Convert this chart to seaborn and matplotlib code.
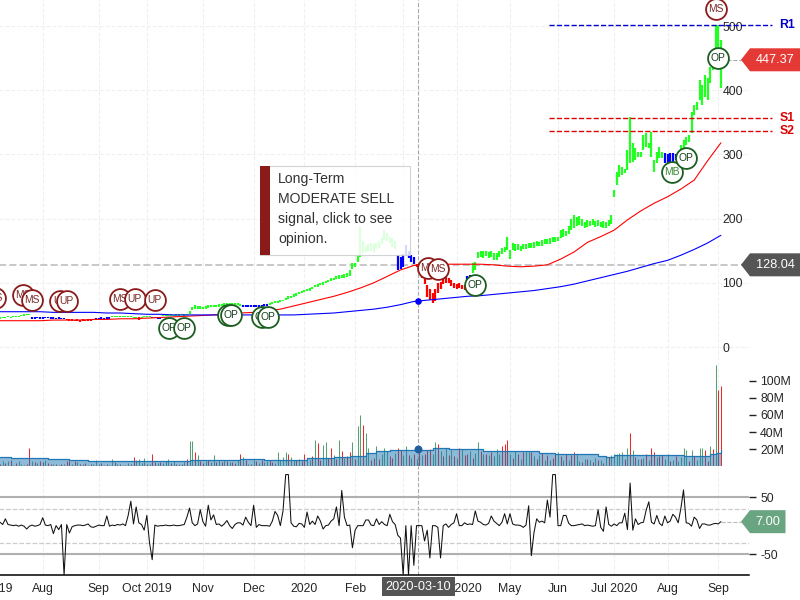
import matplotlib
matplotlib.use('Agg')
import matplotlib.pyplot as plt
import seaborn as sns
import numpy as np
import pandas as pd
from matplotlib.patches import Polygon, Rectangle
from matplotlib.transforms import IdentityTransform

# trading day index, 0 = first bar of the window
highs = [
    46,47,47,48,47,48,49,49,50,51,
    52,52,46,46,47,46,46,47,47,46,
    46,45,46,45,45,44,43,43,42,43,
    42,43,42,43,43,44,45,45,46,45,
    46,46,48,49,49,48,48,49,48,48,
    47,47,46,47,48,48,48,47,47,46,
    46,50,50,51,51,50,51,51,52,51,
    52,56,62,65,64,64,63,64,65,65,
    66,66,67,67,68,68,69,68,69,68,
    67,66,65,66,66,65,66,66,65,67,
    67,69,70,71,72,73,74,76,79,80,
    82,84,85,87,89,90,92,94,97,98,
    100,101,103,105,107,108,110,112,112,113,
    115,120,131,131,143,187,165,158,160,162,
    160,162,165,170,182,178,172,170,165,143,
    140,145,159,150,143,140,130,125,118,110,
    97,90,84,90,100,102,108,109,107,105,
    100,98,99,97,97,110,112,131,132,148,
    150,150,150,148,150,147,146,150,155,156,
    171,151,162,160,160,158,160,160,162,162,
    163,165,164,166,168,168,170,172,172,172,
    182,184,180,188,200,205,202,204,200,195,
    198,197,200,196,198,195,196,195,198,205,
    244,272,283,280,278,307,358,318,310,303,
    303,330,333,318,335,291,304,311,303,302,
    300,302,302,300,300,315,322,327,330,366,
    377,382,416,408,424,419,436,450,502,502,478]
lows = [
    44,45,45,46,45,46,47,47,48,49,
    50,50,44,44,45,44,44,45,45,44,
    44,43,44,43,43,42,41,40,40,41,
    39,41,40,41,41,42,43,43,44,43,
    44,44,46,46,47,46,46,46,46,46,
    45,45,42,45,46,46,46,45,45,44,
    44,48,48,49,49,48,49,49,50,49,
    50,52,58,60,60,60,59,60,61,62,
    62,63,63,64,64,65,65,65,65,65,
    64,63,63,63,63,63,63,63,63,64,
    64,66,67,68,69,70,71,73,75,77,
    78,80,82,84,85,87,88,91,93,94,
    96,97,99,101,103,105,106,106,107,108,
    109,110,122,124,132,140,147,148,149,150,
    148,152,155,160,167,165,162,156,152,120,
    122,125,143,138,132,130,124,115,108,98,
    78,74,69,72,84,90,98,100,100,95,
    92,90,92,90,89,100,105,115,120,139,
    140,138,142,138,140,135,136,140,145,148,
    151,137,151,150,151,150,152,153,154,155,
    155,157,157,158,160,160,161,163,164,165,
    170,172,173,176,182,186,188,190,188,186,
    187,188,190,187,188,187,186,185,188,192,
    233,252,265,268,271,276,287,288,291,296,
    296,307,311,310,296,273,287,294,294,287,
    287,288,288,291,291,299,310,315,319,333,
    361,369,385,377,389,385,411,431,466,467,403]
trend = (['up']*12 + ['flat']*13 + ['down']*11 + ['flat']*6 + ['up']*10 + ['down']*1 +
         ['up']*4 + ['flat']*4 + ['up']*30 + ['flat']*10 + ['up']*48 + ['flat']*7 +
         ['down']*19 + ['flat']*2 + ['up']*72 + ['flat']*6 + ['up']*16)

ma_days = list(range(0, 271, 5))
ma_fast = [41,41,41,41,42,42,42,43,43,44,44,45,46,47,48,49,50,51,53,54,56,59,64,69,74,79,
           85,92,100,110,120,127,129,129,129,129,129,128,126,125,126,128,137,148,163,172,
           182,198,212,224,234,246,260,290,318]
ma_slow = [55,55,55,55,54,54,54,54,53,53,52,51,51,50,50,50,50,50,50,50,50,50,50,51,52,53,
           55,57,59,62,66,71,73,75,77,79,80,82,84,86,88,91,94,98,103,108,
           113,118,124,130,135,143,152,162,174]

volume = [
    3,6,4,6,7,2,4,6,3,2,
    3,21,6,5,4,6,5,7,4,3,
    3,3,2,3,3,6,6,3,6,5,
    3,3,4,2,3,3,8,3,4,2,
    3,2,9,5,3,3,2,2,4,3,
    11,7,9,4,10,3,3,14,5,4,
    5,4,6,9,4,6,3,3,3,5,
    9,30,30,17,13,6,4,6,7,5,
    13,5,7,5,8,6,5,5,4,7,
    15,11,7,3,3,7,6,4,7,5,
    6,7,5,4,17,7,11,17,14,11,
    8,7,9,6,14,8,7,12,31,27,
    8,25,28,10,21,13,9,31,18,10,
    12,17,28,9,47,60,48,39,21,8,
    10,24,9,14,22,18,12,10,16,21,
    19,13,24,13,10,14,9,16,13,15,
    19,20,14,29,26,18,12,22,13,19,
    12,10,22,20,13,15,18,10,16,29,
    18,15,14,13,17,12,20,15,24,26,
    31,14,10,18,15,9,17,18,18,17,
    12,9,13,16,7,13,8,10,16,17,
    12,8,15,8,13,17,14,6,5,9,
    9,8,5,10,7,7,4,11,11,13,
    15,14,16,17,9,22,39,19,11,9,
    9,10,14,8,21,17,11,12,13,9,
    14,6,8,12,6,11,22,19,6,19,
    12,8,21,21,19,6,24,20,118,89,94]
volume_side = ('rgrgrrrggr' 'rrgrgrrgrr' 'grgrgrrgrg' 'rgrgrgggrg' 'rggrgrgrgr'
               'rggggrgrrg' 'rgggrgrgrg' 'rggrgrrgrg' 'grgrgrgrrg' 'rgrgrgrgrg'
               'grrgggggrg' 'grgrrggrgr' 'rggrrgrgrg' 'rrgrggrggr' 'rgrgggrrgr'
               'rggrgrgrgr' 'rrggrgrgrg' 'rgrgrrgrgg' 'rgrgrgggrr' 'rgrgrgrggr'
               'grgrgrgrrg' 'rgrgrrggrg' 'rgrgrgrgrg' 'ggggrgrgrg' 'rgrgrrgrrg'
               'grgrggggrg' 'rgggrrgrgrr')
vol_ma_days = [0,4,18,26,33,71,90,99,115,125,131,137,141,146,162,168,181,202,208,216,224,227,230,256,266,268,270]
vol_ma = [10.7,9.5,8.8,7,5.9,7,8.8,8,9.5,10.7,12,16,18,19,21,20,17.6,16,15,14,12.5,11,13,12,14,16,19]

oscillator = [
    6,2,12,2,1,0,1,-1,1,-1,
    -6,-1,1,-1,0,2,14,1,0,2,
    -14,0,-7,2,-87,2,-13,-2,0,1,
    1,0,1,3,-2,-3,-1,1,0,0,
    17,-1,1,0,2,1,3,0,18,43,
    3,33,5,2,-8,18,-30,-60,1,-1,
    0,0,1,0,0,1,0,0,1,2,
    15,31,5,0,3,28,7,-1,36,10,
    19,2,3,-1,3,9,0,-5,2,5,
    5,1,15,6,0,36,-3,2,0,0,
    0,-1,8,25,18,0,26,90,90,5,
    -1,-2,4,3,-3,24,2,8,2,17,
    8,-6,0,1,8,12,33,0,62,15,
    0,1,-39,-8,0,0,0,10,10,1,
    0,12,2,7,2,0,20,7,2,-17,
    -22,-87,0,-87,0,-70,0,0,0,-27,
    -8,-57,0,0,-3,-57,0,3,-3,2,
    5,21,0,0,5,2,3,2,26,8,
    6,2,1,4,17,8,4,0,6,21,
    3,21,3,1,1,0,-3,1,35,-53,
    -12,12,6,8,5,45,15,90,90,0,
    0,18,18,4,0,0,1,2,3,0,
    1,0,-1,0,28,-3,-10,33,2,-1,
    3,0,5,5,22,-7,75,-8,12,2,
    5,6,27,42,6,3,18,4,0,17,
    5,8,20,15,5,30,63,5,4,-1,
    15,10,-5,3,3,1,1,3,4,3,7]

signal_days = [-2,8.6,12,22.5,25,45,50.5,58,63.3,69,85.4,86.5,98,100.4,160.3,164,178,251.7,268,257,269]
signal_prices = [76,81,73,72,72,75,75,73,30,30,50,50,47,47,123,121,97,273,526,294,450]
signal_names = ['MS','MS','MS','UP','UP','MS','UP','UP','OP','OP','OP','OP','OP','OP','MS','MS','OP','MB','MS','OP','OP']

month_days = [-4,16,37,55,76,95,114,133,151,171,191,209,230,250,269]
month_labels = ['Jul 2019','Aug','Sep','Oct 2019','Nov','Dec','2020','Feb','','Apr 2020','May','Jun','Jul 2020','Aug','Sep']
price_ticks = [0,100,200,300,400,500]
volume_ticks = [20,40,60,80,100]
volume_labels = ['20M','40M','60M','80M','100M']
osc_ticks = [-50,50]

R1, S1, S2 = 502, 356, 336
LEVEL_START = 205.6
LEVEL_END = 289
LAST_PRICE, CURSOR_PRICE, LAST_OSC = 447.37, 128.04, 7.00
CURSOR_DAY = 156.6

W, H = 800, 600
PX_PER_DAY = 2.67
LEFT_DAY, RIGHT_PX = -10, 749

TREND_COLORS = {'up': '#22ff22', 'flat': '#0000ff', 'down': '#ff0000'}
SIDE_COLORS = {'g': '#5a9f73', 'r': '#e52b2b'}
GRID = '#f0f0f0'
DARK_RED, DARK_GREEN = '#8b1a1a', '#1b5e20'

sns.set_theme(style='white')
plt.rcParams['font.family'] = ['Liberation Sans', 'DejaVu Sans']
plt.rcParams['text.color'] = '#222222'


def panel(fig, top, bottom, ylim):
    left = LEFT_DAY * PX_PER_DAY
    ax = fig.add_axes([left / W, 1 - bottom / H, (RIGHT_PX - left) / W, (bottom - top) / H])
    ax.patch.set_alpha(0)
    for s in ax.spines.values():
        s.set_visible(False)
    ax.set_xlim(LEFT_DAY, (RIGHT_PX - left) / PX_PER_DAY + LEFT_DAY)
    ax.set_ylim(*ylim)
    ax.set_xticks(month_days)
    ax.set_xticklabels([])
    ax.tick_params(axis='x', length=0)
    ax.grid(axis='x', ls='--', lw=0.8, color=GRID)
    ax.axvline(CURSOR_DAY, color='#aaaaaa', ls='--', lw=0.8, zorder=2)
    ax.yaxis.tick_right()
    ax.set_xlabel('')
    ax.set_ylabel('')
    return ax


def value_tag(fig, ax, value, text, color, right=W):
    y = ax.transData.transform((0, value))[1]
    pts = [(741, y), (750, y + 11.5), (right, y + 11.5), (right, y - 11.5), (750, y - 11.5)]
    fig.add_artist(Polygon(pts, closed=True, transform=IdentityTransform(), facecolor=color,
                           edgecolor='none', zorder=20))
    fig.text((right + 750) / 2 / W, y / H, text, color='white', fontsize=9.2, ha='center', va='center', zorder=21)


fig = plt.figure(figsize=(8, 6), dpi=100, facecolor='white')

# price panel
ax = panel(fig, 0, 360, (-20.2, 540.5))
ax.grid(axis='y', ls='--', lw=0.8, color=GRID)
ax.set_yticks(price_ticks)
ax.set_yticklabels([str(t) for t in price_ticks], fontsize=8.8)
ax.tick_params(axis='y', length=0, pad=-19)
days = np.arange(len(highs))
ax.vlines(days, lows, highs, colors=[TREND_COLORS[t] for t in trend], lw=1.6, zorder=3)
ma = pd.DataFrame({'day': ma_days, 'fast': ma_fast, 'slow': ma_slow})
sns.lineplot(data=ma, x='day', y='fast', color='#ff0000', lw=0.8, ax=ax, zorder=4)
sns.lineplot(data=ma, x='day', y='slow', color='#0000ff', lw=0.8, ax=ax, zorder=4)
ax.scatter([CURSOR_DAY], [72], s=14, color='#0000ff', zorder=4)
ax.plot([LEFT_DAY, 278], [CURSOR_PRICE, CURSOR_PRICE], color='#c8c8c8', ls='--', lw=1.4, zorder=2)
ax.plot([days[-1], 278], [LAST_PRICE, LAST_PRICE], color='#aaaaaa', ls='--', lw=0.8, zorder=2)
for level, color, label in [(R1, '#0000cc', 'R1'), (S1, '#dd0000', 'S1'), (S2, '#dd0000', 'S2')]:
    ax.plot([LEVEL_START, LEVEL_END], [level, level], color=color, ls='--', lw=1, clip_on=False, zorder=4)
    ax.text(294.8, level, label, color=color, fontsize=8.8, fontweight='bold', ha='center', va='center')

for i, (d, p, name) in enumerate(zip(signal_days, signal_prices, signal_names)):
    sell = name in ('MS', 'UP')
    edge = DARK_RED if sell else DARK_GREEN
    ink = '#7a2a2a' if sell else ('#3a8a3a' if name == 'MB' else '#14401a')
    z = 6 + i * 0.01
    sns.scatterplot(x=[d], y=[p], s=225, facecolor='white', edgecolor=edge, linewidth=1.3,
                    ax=ax, zorder=z, clip_on=False)
    ax.text(d, p, name, color=ink, fontsize=7.4, ha='center', va='center', zorder=z + 0.001)
ax.set_xlabel('')
ax.set_ylabel('')

# volume panel
vax = panel(fig, 360, 465.5, (1, 124.2))
vax.set_yticks(volume_ticks)
vax.set_yticklabels(volume_labels, fontsize=8.8)
vax.tick_params(axis='y', length=5, width=1, color='#222222', pad=3)
vol_days = np.arange(len(volume))
vax.vlines(vol_days, 0, volume, colors=[SIDE_COLORS[s] for s in volume_side], lw=0.75, zorder=3)
vax.fill_between(vol_ma_days, 0, vol_ma, step='post', color='#1f77b4', alpha=0.5, lw=0, zorder=4)
sns.lineplot(x=vol_ma_days, y=vol_ma, color='#1f77b4', lw=0.9, drawstyle='steps-post', ax=vax, zorder=5)
vax.scatter([CURSOR_DAY], [20], s=22, color='#1f5f9f', zorder=6)
vax.set_xlabel('')
vax.set_ylabel('')

# oscillator panel
oax = panel(fig, 465.5, 575, (-87, 106))
oax.spines['bottom'].set_visible(True)
oax.spines['bottom'].set_color('black')
oax.spines['bottom'].set_linewidth(1.1)
oax.set_yticks(osc_ticks)
oax.set_yticklabels([str(t) for t in osc_ticks], fontsize=8.8)
oax.tick_params(axis='y', length=5, width=1, color='#222222', pad=3)
for level in (50, -50):
    oax.axhline(level, color='#b0b0b0', lw=1.5, zorder=2)
for level in (30, -30):
    oax.axhline(level, color='#cccccc', ls='--', lw=0.9, zorder=2)
sns.lineplot(x=np.arange(len(oscillator)), y=oscillator, color='#111111', lw=0.75, ax=oax, zorder=4)
oax.plot([len(oscillator) - 1, 278], [LAST_OSC, LAST_OSC], color='#bbbbbb', ls='--', lw=0.8, zorder=2)
oax.set_xticklabels(month_labels, fontsize=8.8)
oax.tick_params(axis='x', length=0, pad=6)
oax.set_xlabel('')
oax.set_ylabel('')

fig.canvas.draw()

# tags on the right
value_tag(fig, ax, LAST_PRICE, '447.37', '#e53935')
value_tag(fig, ax, CURSOR_PRICE, '128.04', '#555555')
value_tag(fig, oax, LAST_OSC, '7.00', '#6aa582', right=785.5)

# cursor date under the axis
fig.add_artist(Rectangle((382 / W, 1 - 596 / H), 73 / W, 19 / H, transform=fig.transFigure,
                         facecolor='#555555', edgecolor='none', zorder=20))
fig.text(418.5 / W, 1 - 586.5 / H, '2020-03-10', color='white', fontsize=9.2, ha='center', va='center', zorder=21)

# opinion box
fig.add_artist(Rectangle((260 / W, 1 - 255 / H), 150 / W, 89 / H, transform=fig.transFigure,
                         facecolor='white', edgecolor='#cccccc', lw=0.8, alpha=0.85, zorder=20))
fig.add_artist(Rectangle((260 / W, 1 - 255 / H), 10 / W, 89 / H, transform=fig.transFigure,
                         facecolor=DARK_RED, edgecolor='none', zorder=21))
for y, line in zip([179, 199, 219, 239], ['Long-Term', 'MODERATE SELL', 'signal, click to see', 'opinion.']):
    fig.text(278 / W, 1 - y / H, line, color='#333333', fontsize=10.1, ha='left', va='center', zorder=22)

fig.savefig('out.png', dpi=100)
